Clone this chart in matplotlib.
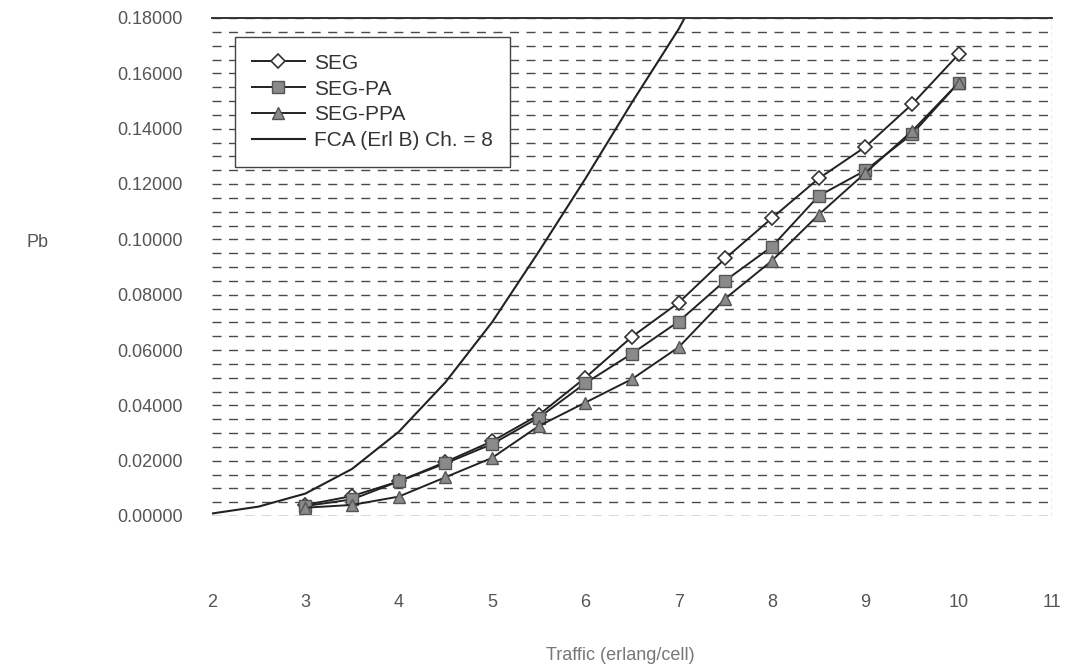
import numpy as np
import matplotlib
matplotlib.use('Agg')
import matplotlib.pyplot as plt
from matplotlib.ticker import MultipleLocator, FormatStrFormatter

plt.rcParams['font.family'] = ['Liberation Sans', 'DejaVu Sans']

# traffic offered per cell (erlang)
traffic = [3, 3.5, 4, 4.5, 5, 5.5, 6, 6.5, 7, 7.5, 8, 8.5, 9, 9.5, 10]

seg = [0.0040, 0.0072, 0.0125, 0.0195, 0.0270, 0.0365, 0.0500, 0.0648,
       0.0771, 0.0931, 0.1077, 0.1220, 0.1334, 0.1488, 0.1669]
seg_pa = [0.0036, 0.0060, 0.0125, 0.0190, 0.0260, 0.0355, 0.0480, 0.0587,
          0.0703, 0.0851, 0.0974, 0.1157, 0.1249, 0.1380, 0.1566]
seg_ppa = [0.0030, 0.0040, 0.0070, 0.0140, 0.0210, 0.0325, 0.0410, 0.0495,
           0.0610, 0.0786, 0.0923, 0.1089, 0.1240, 0.1391, 0.1566]

# fixed channel allocation, Erlang B with 8 channels
fca_x = [2, 2.5, 3, 3.5, 4, 4.5, 5, 5.5, 6, 6.5, 7, 7.5]
fca_y = [0.0009, 0.0034, 0.0081, 0.0170, 0.0304, 0.0483, 0.0700, 0.0955,
         0.1219, 0.1495, 0.1760, 0.2074]

x_ticks = [2, 3, 4, 5, 6, 7, 8, 9, 10, 11]

W, H = 1073, 672
fig = plt.figure(figsize=(W / 100, H / 100), dpi=100)
ax = fig.add_axes([212 / W, 1 - 516 / H, (1052 - 212) / W, (516 - 18) / H])

ax.set_xlim(2, 11)
ax.set_ylim(0, 0.18)

# dashed horizontal grid every 0.005
ax.yaxis.set_major_locator(MultipleLocator(0.02))
ax.yaxis.set_minor_locator(MultipleLocator(0.005))
ax.yaxis.set_major_formatter(FormatStrFormatter('%.5f'))
ax.grid(True, axis='y', which='both', color='#4a4a4a', lw=1.0,
        linestyle=(0, (6.5, 5.4)))
ax.set_axisbelow(True)

for s in ['left', 'bottom', 'right']:
    ax.spines[s].set_visible(False)
ax.spines['top'].set_color('#333333')
ax.spines['top'].set_linewidth(1.4)
ax.axvline(11, color='#555555', lw=0.9, linestyle=(0, (3, 3)))
ax.axhline(0, color='#999999', lw=0.8, linestyle=(0, (2, 2)))

ax.set_xticks(x_ticks)
ax.set_xticklabels([str(v) for v in x_ticks])
ax.tick_params(axis='x', length=0, pad=56, labelsize=13, labelcolor='#555555')
ax.tick_params(axis='y', which='both', length=0, pad=21, labelsize=13,
               labelcolor='#555555')

line_c = '#222222'
ax.plot(traffic, seg, color=line_c, lw=1.4, marker='D', ms=7,
        mfc='white', mec='#333333', mew=1.2, label='SEG')
ax.plot(traffic, seg_pa, color=line_c, lw=1.4, marker='s', ms=8,
        mfc='#8a8a8a', mec='#555555', mew=1.0, label='SEG-PA')
ax.plot(traffic, seg_ppa, color=line_c, lw=1.4, marker='^', ms=9,
        mfc='#8a8a8a', mec='#555555', mew=1.0, label='SEG-PPA')
ax.plot(fca_x, fca_y, color=line_c, lw=1.5, label='FCA (Erl B) Ch. = 8')

leg = ax.legend(loc='upper left', bbox_to_anchor=(235 / W, 1 - 37 / H),
                bbox_transform=fig.transFigure, fontsize=15, frameon=True,
                fancybox=False, borderaxespad=0, borderpad=0.8,
                handlelength=2.55, handletextpad=0.45, labelspacing=0.33)
leg.get_frame().set_edgecolor('#444444')
leg.get_frame().set_linewidth(1.0)
leg.get_frame().set_alpha(1)
for t in leg.get_texts():
    t.set_color('#333333')

fig.text(37 / W, 1 - 242 / H, 'Pb', fontsize=13, color='#555555',
         ha='center', va='center')
fig.text(620 / W, 1 - 655 / H, 'Traffic (erlang/cell)', fontsize=13,
         color='#777777', ha='center', va='center')

fig.savefig('out.png', dpi=100, facecolor='white')
